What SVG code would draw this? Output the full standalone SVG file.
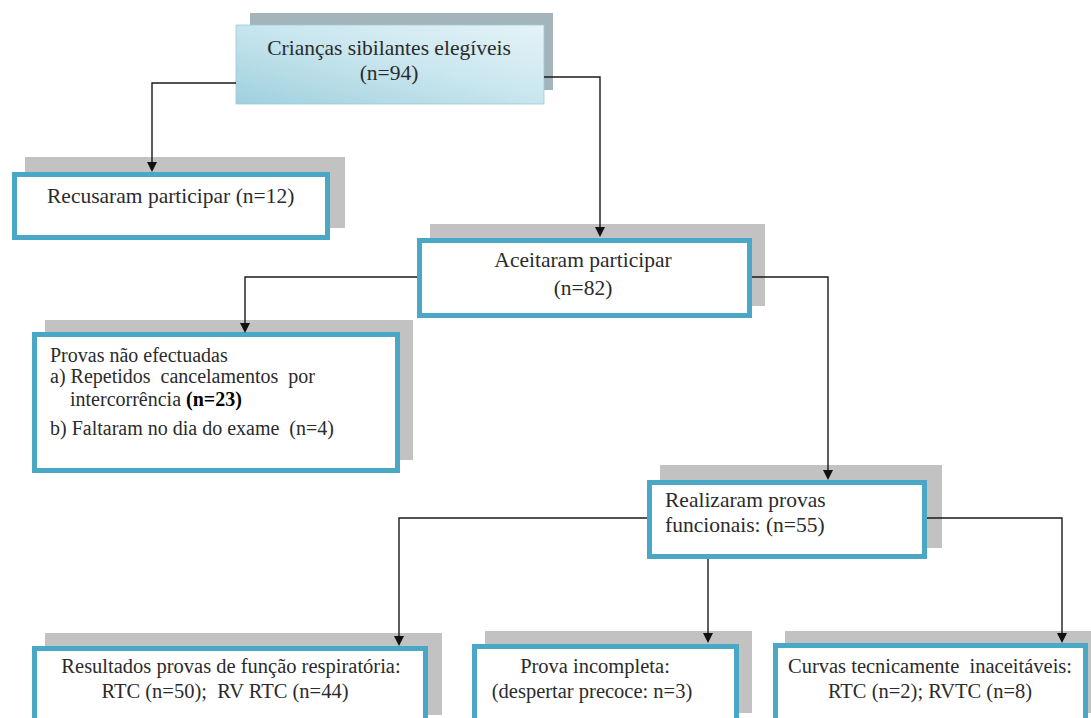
<svg xmlns="http://www.w3.org/2000/svg" width="1091" height="718" viewBox="0 0 1091 718">
<defs>
<linearGradient id="topgrad" x1="0" y1="1" x2="1" y2="0">
<stop offset="0" stop-color="#9fd0de"/>
<stop offset="0.55" stop-color="#cbe7ef"/>
<stop offset="1" stop-color="#e4f3f7"/>
</linearGradient>
<style>
.shadow{fill:#c2c2c2}
.box{fill:#ffffff;stroke:#4aa7c5;stroke-width:5}
.t{font-family:"Liberation Serif","Times New Roman",serif;font-size:21.5px;fill:#2b2b2b}
.s{font-size:20px}
.b{font-size:20.5px}
.c{text-anchor:middle}
.bold{font-weight:bold;fill:#000000}
.con{fill:none;stroke:#1a1a1a;stroke-width:1.4}
.ah{fill:#111111;stroke:none}
</style>
</defs>
<rect width="1091" height="718" fill="#ffffff"/>

<g id="node-criancas">
<rect x="250" y="13" width="303" height="77" fill="#a3b4ba"/>
<rect x="236" y="25" width="308" height="79" fill="url(#topgrad)" stroke="#9ccbd8" stroke-width="0.8"/>
<text class="t c" x="389" y="55">Crianças sibilantes elegíveis</text>
<text class="t c" x="389" y="80">(n=94)</text>
</g>

<g id="node-recusaram">
<rect class="shadow" x="25" y="157" width="320" height="71"/>
<rect class="box" x="14.5" y="174.5" width="313" height="63"/>
<text class="t" x="47" y="203">Recusaram participar (n=12)</text>
</g>

<g id="node-aceitaram">
<rect class="shadow" x="430" y="224" width="335" height="82"/>
<rect class="box" x="419.5" y="240.5" width="330" height="75"/>
<text class="t c" x="583" y="267">Aceitaram participar</text>
<text class="t c" x="583" y="295">(n=82)</text>
</g>

<g id="node-provas">
<rect class="shadow" x="45" y="320" width="368" height="140"/>
<rect class="box" x="34.5" y="334.5" width="363" height="136"/>
<text class="t s" x="50" y="362">Provas não efectuadas</text>
<text class="t s" x="50" y="383" xml:space="preserve">a) Repetidos  cancelamentos  por</text>
<text class="t s" x="70" y="406">intercorrência <tspan class="bold">(n=23)</tspan></text>
<text class="t s" x="50" y="435" xml:space="preserve">b) Faltaram no dia do exame  (n=4)</text>
</g>

<g id="node-realizaram">
<rect class="shadow" x="660" y="465" width="282" height="83"/>
<rect class="box" x="649.5" y="482.5" width="275" height="74"/>
<text class="t" x="665" y="507">Realizaram provas</text>
<text class="t" x="665" y="532">funcionais: (n=55)</text>
</g>

<g id="node-resultados">
<rect class="shadow" x="45" y="633" width="397" height="82"/>
<rect class="box" x="34.5" y="648.5" width="391" height="80"/>
<text class="t b c" x="231" y="673">Resultados provas de função respiratória:</text>
<text class="t b c" x="225" y="698" xml:space="preserve">RTC (n=50);  RV RTC (n=44)</text>
</g>

<g id="node-incompleta">
<rect class="shadow" x="485" y="631" width="267" height="82"/>
<rect class="box" x="474.5" y="646.5" width="262" height="80"/>
<text class="t b c" x="595" y="673">Prova incompleta:</text>
<text class="t b c" x="592" y="698">(despertar precoce: n=3)</text>
</g>

<g id="node-curvas">
<rect class="shadow" x="785" y="631" width="306" height="82"/>
<rect class="box" x="775.5" y="645.5" width="310" height="80"/>
<text class="t b c" x="930" y="673" xml:space="preserve">Curvas tecnicamente  inaceitáveis:</text>
<text class="t b c" x="930" y="698">RTC (n=2); RVTC (n=8)</text>
</g>

<g id="connectors">
<path class="con" d="M236,83 H152 V164"/>
<path class="ah" d="M147,162 L157,162 L152,172 Z"/>
<path class="con" d="M544,77 H600 V229"/>
<path class="ah" d="M595,227 L605,227 L600,237 Z"/>
<path class="con" d="M417,277 H245 V325"/>
<path class="ah" d="M240,323 L250,323 L245,333 Z"/>
<path class="con" d="M752,277 H828 V472"/>
<path class="ah" d="M823,470 L833,470 L828,480 Z"/>
<path class="con" d="M647,518 H399 V638"/>
<path class="ah" d="M394,636 L404,636 L399,646 Z"/>
<path class="con" d="M927,518 H1062 V635"/>
<path class="ah" d="M1057,633 L1067,633 L1062,643 Z"/>
<path class="con" d="M708,559 V635"/>
<path class="ah" d="M703,633 L713,633 L708,643 Z"/>
</g>
</svg>
